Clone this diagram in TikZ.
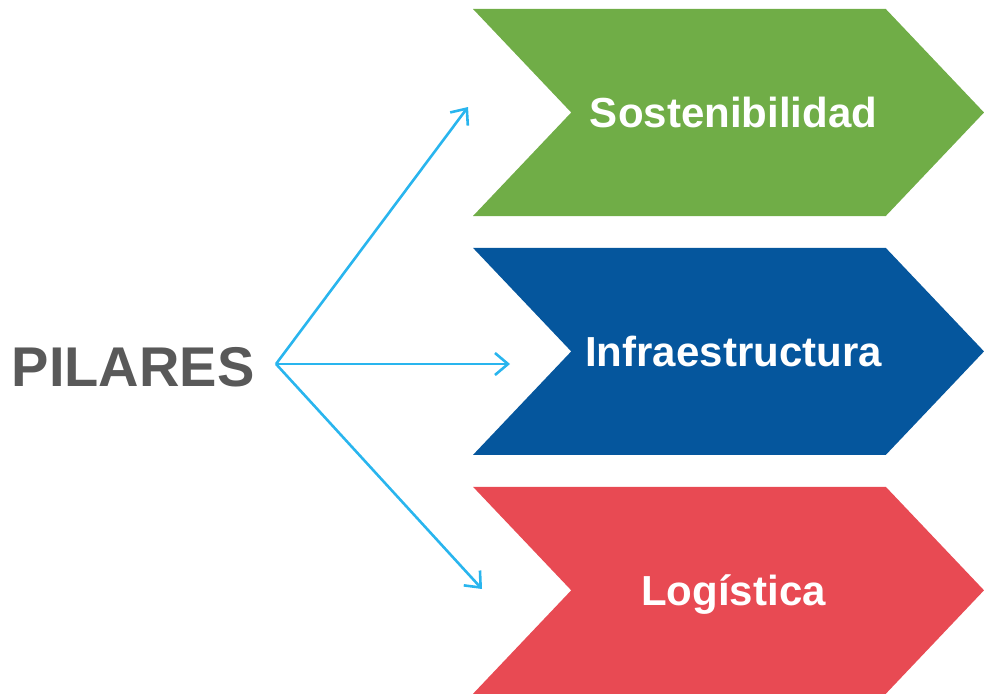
\documentclass[tikz,border=0pt]{standalone}
\usepackage{fontspec}
\setmainfont{Liberation Sans}
\usetikzlibrary{positioning,shapes.symbols,arrows.meta}

\definecolor{verde}{HTML}{70AD47}
\definecolor{azul}{HTML}{05569D}
\definecolor{rojo}{HTML}{E84A53}
\definecolor{celeste}{HTML}{29B5EE}
\definecolor{gris}{HTML}{595959}

\tikzset{
  pilar/.style={signal, signal from=west, signal to=east, signal pointer angle=93,
    minimum width=511pt, minimum height=207pt, inner sep=0pt, text=white,
    text height=30pt, text depth=0pt, font=\fontsize{42}{50}\selectfont\bfseries},
  titulo/.style={text=gris, inner sep=0pt, font=\fontsize{56}{66}\selectfont\bfseries},
  rama/.style={draw=celeste, line width=2.6pt, -{Straight Barb[length=13pt,width=22pt]}}
}

\begin{document}
\begin{tikzpicture}[x=1pt,y=-1pt]

      \useasboundingbox (0,0) rectangle (984,693);

      % Define nodes
	  \node[titulo, anchor=base]               (pilares) at (133,386) {PILARES};
	  \node[pilar, fill=verde]                 (sost) at (728.5,112.5) {\hspace*{10pt}Sostenibilidad};
	  \node[pilar, fill=azul, below=31.5pt of sost]  (infra) {\hspace*{10pt}Infraestructura};
	  \node[pilar, fill=rojo, below=31.5pt of infra] (logi) {\hspace*{10pt}Logística};

	  \coordinate (hub)      at (276,364);
	  \coordinate (fin-sost) at (468,107);
	  \coordinate (fin-infra) at (510,364);
	  \coordinate (fin-logi) at (482,589);

	  % Connect the nodes
	  \draw[rama] (hub) -- (fin-sost);
	  \draw[rama] (hub) -- (fin-infra);
	  \draw[rama] (hub) -- (fin-logi);

	\end{tikzpicture}
\end{document}
